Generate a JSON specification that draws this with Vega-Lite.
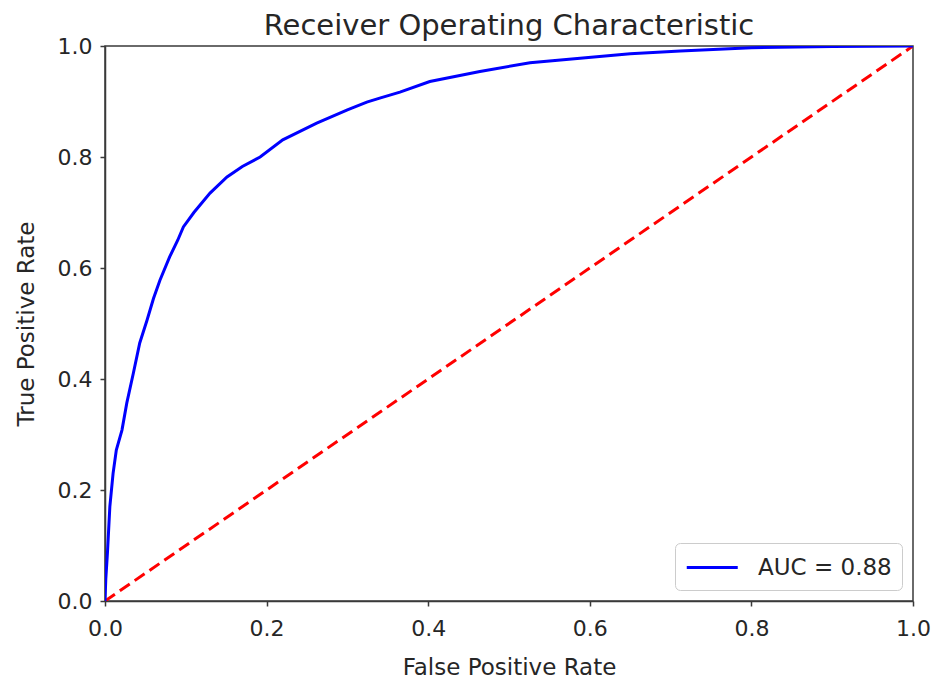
{
  "$schema": "https://vega.github.io/schema/vega-lite/v6.json",
  "width": 808,
  "height": 555,
  "autosize": {"type": "none"},
  "padding": {"left": 105, "top": 46, "right": 31, "bottom": 85},
  "background": "white",
  "title": {
    "text": "Receiver Operating Characteristic",
    "font": "DejaVu Sans",
    "fontSize": 29,
    "fontWeight": "normal",
    "color": "#262626",
    "offset": -6
  },
  "config": {
    "view": {"stroke": "#3a3a3a", "strokeWidth": 1.5},
    "axis": {
      "grid": false,
      "domainColor": "#3a3a3a",
      "domainWidth": 1.5,
      "tickColor": "#3a3a3a",
      "tickWidth": 1.5,
      "tickSize": 5,
      "labelFont": "DejaVu Sans",
      "labelFontSize": 22,
      "labelColor": "#262626",
      "labelPadding": 8,
      "labelFlush": false,
      "titleFont": "DejaVu Sans",
      "titleFontSize": 23,
      "titleFontWeight": "normal",
      "titleColor": "#262626"
    },
    "legend": {
      "labelFont": "DejaVu Sans",
      "labelFontSize": 23,
      "labelColor": "#262626"
    }
  },
  "datasets": {
    "roc": [
      {"fpr": 0, "tpr": 0},
      {"fpr": 0.001, "tpr": 0.04},
      {"fpr": 0.003, "tpr": 0.086},
      {"fpr": 0.006, "tpr": 0.17},
      {"fpr": 0.01, "tpr": 0.23},
      {"fpr": 0.014, "tpr": 0.272},
      {"fpr": 0.021, "tpr": 0.308},
      {"fpr": 0.027, "tpr": 0.357},
      {"fpr": 0.035, "tpr": 0.41},
      {"fpr": 0.043, "tpr": 0.465},
      {"fpr": 0.052, "tpr": 0.506},
      {"fpr": 0.06, "tpr": 0.545},
      {"fpr": 0.068, "tpr": 0.578},
      {"fpr": 0.08, "tpr": 0.62},
      {"fpr": 0.09, "tpr": 0.65},
      {"fpr": 0.097, "tpr": 0.674},
      {"fpr": 0.11, "tpr": 0.7},
      {"fpr": 0.13, "tpr": 0.735},
      {"fpr": 0.151, "tpr": 0.764},
      {"fpr": 0.17, "tpr": 0.783},
      {"fpr": 0.192, "tpr": 0.8},
      {"fpr": 0.22, "tpr": 0.831},
      {"fpr": 0.262, "tpr": 0.861},
      {"fpr": 0.3, "tpr": 0.885},
      {"fpr": 0.324, "tpr": 0.899},
      {"fpr": 0.34, "tpr": 0.906},
      {"fpr": 0.365, "tpr": 0.917},
      {"fpr": 0.402, "tpr": 0.936},
      {"fpr": 0.464, "tpr": 0.954},
      {"fpr": 0.526, "tpr": 0.97},
      {"fpr": 0.588, "tpr": 0.978},
      {"fpr": 0.65, "tpr": 0.986},
      {"fpr": 0.712, "tpr": 0.991},
      {"fpr": 0.8, "tpr": 0.997},
      {"fpr": 0.9, "tpr": 0.999},
      {"fpr": 1.0, "tpr": 1.0}
    ],
    "diag": [
      {"fpr": 0, "tpr": 0},
      {"fpr": 1, "tpr": 1}
    ]
  },
  "layer": [
    {
      "data": {"name": "diag"},
      "mark": {"type": "line", "color": "#ff0000", "strokeWidth": 3, "strokeDash": [12, 6], "clip": true},
      "encoding": {
        "x": {"field": "fpr", "type": "quantitative", "scale": {"domain": [0, 1], "nice": false, "zero": false},
              "axis": {"title": "False Positive Rate", "values": [0, 0.2, 0.4, 0.6, 0.8, 1.0], "format": ".1f", "labelPadding": 12, "titlePadding": 17}},
        "y": {"field": "tpr", "type": "quantitative", "scale": {"domain": [0, 1], "nice": false, "zero": false},
              "axis": {"title": "True Positive Rate", "values": [0, 0.2, 0.4, 0.6, 0.8, 1.0], "format": ".1f", "titlePadding": 19}}
      }
    },
    {
      "data": {"name": "roc"},
      "transform": [{"calculate": "'AUC = 0.88'", "as": "series"}],
      "mark": {"type": "line", "strokeWidth": 3, "clip": true},
      "encoding": {
        "x": {"field": "fpr", "type": "quantitative"},
        "y": {"field": "tpr", "type": "quantitative"},
        "order": {"field": "fpr", "type": "quantitative"},
        "color": {
          "field": "series",
          "type": "nominal",
          "scale": {"domain": ["AUC = 0.88"], "range": ["#0000ff"]},
          "legend": {
            "title": null,
            "orient": "bottom-right",
            "offset": 11,
            "padding": 10,
            "symbolType": "M-1,0H3",
            "symbolSize": 650,
            "symbolStrokeWidth": 3,
            "labelOffset": 44,
            "strokeColor": "#cccccc",
            "fillColor": "white",
            "cornerRadius": 5
          }
        }
      }
    }
  ]
}
